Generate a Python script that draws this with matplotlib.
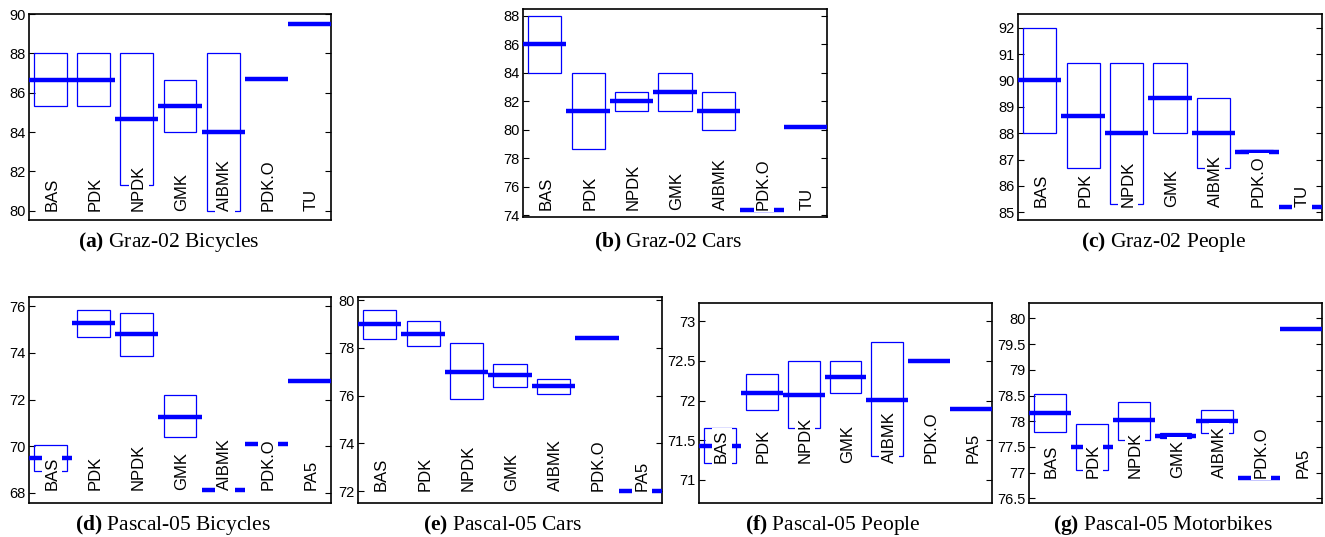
import numpy as np
import matplotlib
matplotlib.use('Agg')
import matplotlib.pyplot as plt
from matplotlib.ticker import FuncFormatter

plt.rcParams['font.family'] = ['Liberation Sans', 'DejaVu Sans']
plt.rcParams['mathtext.fontset'] = 'custom'
plt.rcParams['mathtext.rm'] = 'Liberation Serif'
plt.rcParams['mathtext.bf'] = 'Liberation Serif:bold'

nan = np.nan
methods_graz = ['BAS', 'PDK', 'NPDK', 'GMK', 'AIBMK', 'PDK.O', 'TU']
methods_pascal = ['BAS', 'PDK', 'NPDK', 'GMK', 'AIBMK', 'PDK.O', 'PA5']

# (a) Graz-02 Bicycles
a_lo = [85.33, 85.33, 81.33, 84.0, 80.0, nan, nan]
a_hi = [88.0, 88.0, 88.0, 86.67, 88.0, nan, nan]
a_med = [86.67, 86.67, 84.67, 85.33, 84.0, 86.7, 89.5]
# (b) Graz-02 Cars
b_lo = [84.0, 78.67, 81.33, 81.33, 80.0, nan, nan]
b_hi = [88.0, 84.0, 82.67, 84.0, 82.67, nan, nan]
b_med = [86.0, 81.33, 82.0, 82.67, 81.33, 74.4, 80.2]
# (c) Graz-02 People
c_lo = [88.0, 86.67, 85.33, 88.0, 86.67, 87.27, nan]
c_hi = [92.0, 90.67, 90.67, 90.67, 89.33, 87.35, nan]
c_med = [90.0, 88.67, 88.0, 89.33, 88.0, 87.3, 85.2]
# (d) Pascal-05 Bicycles
d_lo = [68.93, 74.7, 73.87, 70.4, nan, nan, nan]
d_hi = [70.07, 75.85, 75.7, 72.18, nan, nan, nan]
d_med = [69.5, 75.3, 74.8, 71.25, 68.1, 70.1, 72.8]
# (e) Pascal-05 Cars
e_lo = [78.38, 78.1, 75.85, 76.38, 76.08, nan, nan]
e_hi = [79.6, 79.12, 78.2, 77.32, 76.7, nan, nan]
e_med = [79.0, 78.6, 77.0, 76.85, 76.4, 78.4, 72.0]
# (f) Pascal-05 People
f_lo = [71.21, 71.88, 71.66, 72.1, 71.3, nan, nan]
f_hi = [71.66, 72.34, 72.5, 72.5, 72.74, nan, nan]
f_med = [71.43, 72.1, 72.07, 72.3, 72.01, 72.5, 71.9]
# (g) Pascal-05 Motorbikes
g_lo = [77.79, 77.06, 77.64, 77.68, 77.78, nan, nan]
g_hi = [78.53, 77.94, 78.38, 77.77, 78.21, nan, nan]
g_med = [78.16, 77.5, 78.02, 77.71, 78.0, 76.9, 79.8]

titles = ['Graz-02 Bicycles', 'Graz-02 Cars', 'Graz-02 People',
          'Pascal-05 Bicycles', 'Pascal-05 Cars', 'Pascal-05 People',
          'Pascal-05 Motorbikes']
tags = ['a', 'b', 'c', 'd', 'e', 'f', 'g']

W, H = 1325, 537
# axes boxes in pixels: left, top, right, bottom
boxes = [(29, 14, 331, 220), (523, 9, 827, 217), (1018, 14, 1322, 220),
         (29, 297, 331, 503), (358, 297, 662, 503),
         (699, 303, 992, 503), (1029, 303, 1322, 503)]
# caption centres in pixels
capx = [168.5, 668, 1163, 172.5, 502.5, 832.5, 1163]
ylims = [(79.53, 90.0), (73.88, 88.47), (84.71, 92.52),
         (67.56, 76.4), (71.51, 80.13), (70.71, 73.23), (76.41, 80.3)]
yticks = [np.arange(80, 91, 2), np.arange(74, 89, 2), np.arange(85, 93, 1),
          np.arange(68, 77, 2), np.arange(72, 81, 2), np.arange(71, 73.1, 0.5),
          np.arange(76.5, 80.1, 0.5)]
data = [(a_lo, a_hi, a_med, methods_graz), (b_lo, b_hi, b_med, methods_graz),
        (c_lo, c_hi, c_med, methods_graz), (d_lo, d_hi, d_med, methods_pascal),
        (e_lo, e_hi, e_med, methods_pascal), (f_lo, f_hi, f_med, methods_pascal),
        (g_lo, g_hi, g_med, methods_pascal)]

blue = '#0000ff'
fig = plt.figure(figsize=(W/100.0, H/100.0), dpi=100)

for k in range(7):
    l, t, r, b = boxes[k]
    ax = fig.add_axes([l/W, 1-b/H, (r-l)/W, (b-t)/H])
    lo, hi, med, names = data[k]
    x = np.arange(1, len(names)+1)
    for i in range(len(names)):
        if not np.isnan(lo[i]):
            ax.add_patch(plt.Rectangle((x[i]-0.38, lo[i]), 0.76, hi[i]-lo[i],
                                       fill=False, edgecolor=blue, lw=0.9, zorder=2))
        ax.plot([x[i]-0.5, x[i]+0.5], [med[i], med[i]], color=blue, lw=3.2,
                solid_capstyle='butt', zorder=3)
    ybase = np.nanmin(np.concatenate([lo, med]))
    for i in range(len(names)):
        ax.text(x[i]+0.04, ybase, names[i], rotation=90, ha='center', va='bottom',
                fontsize=12, zorder=4,
                bbox=dict(facecolor='white', edgecolor='none', pad=1.8))
    ax.set_xlim(0.5, len(names)+0.5)
    ax.set_ylim(*ylims[k])
    ax.set_yticks(yticks[k])
    ax.yaxis.set_major_formatter(FuncFormatter(lambda v, p: '%g' % round(v, 2)))
    ax.set_xticks([])
    ax.tick_params(axis='y', direction='in', left=True, right=True, length=4,
                   width=0.8, labelsize=10.5, pad=2.5)
    for s in ax.spines.values():
        s.set_linewidth(1.2)
    ty = 242 if k < 3 else 525
    fig.text(capx[k]/W, 1-ty/H, r'$\bf{(%s)}$ %s' % (tags[k], titles[k]),
             family=['Liberation Serif', 'DejaVu Serif'], ha='center', va='center',
             fontsize=15.5)

plt.savefig('out.png', dpi=100)
plt.close()
